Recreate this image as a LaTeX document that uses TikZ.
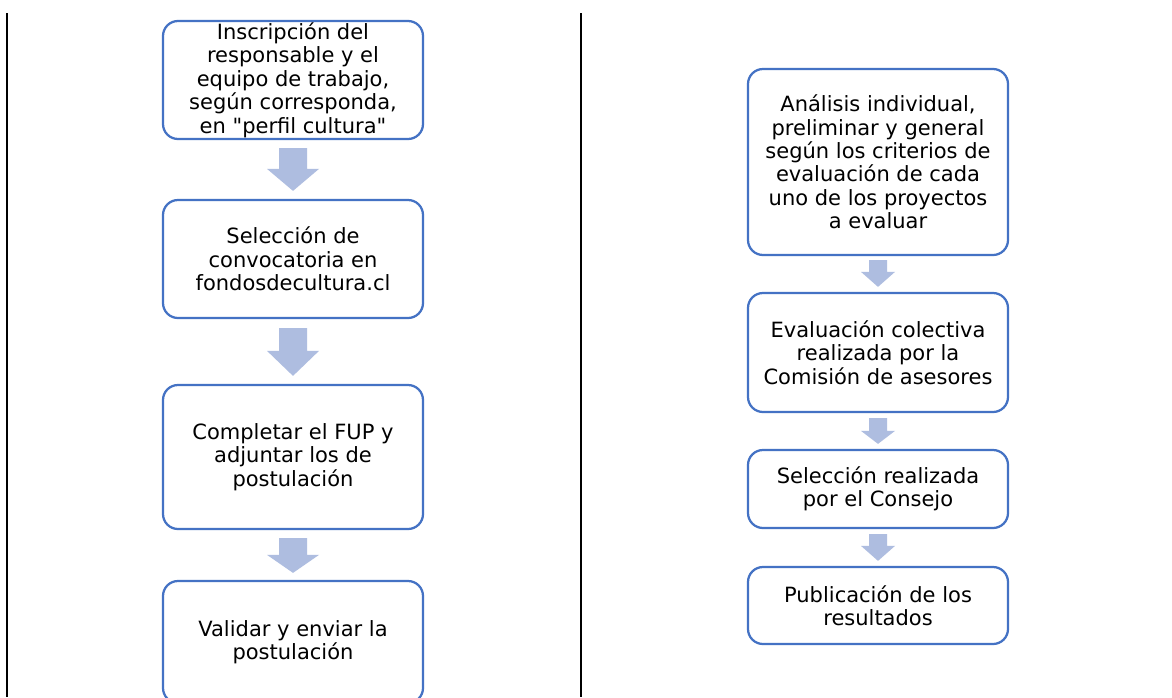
\documentclass[tikz,border=0pt]{standalone}
\usepackage{fontspec}
\setmainfont{DejaVu Sans}[Ligatures=TeXOff]
\usetikzlibrary{calc}
\definecolor{boxblue}{RGB}{68,114,196}
\definecolor{arrowfill}{RGB}{174,189,224}
\tikzset{
  stepbox/.style={draw=boxblue, line width=2.25pt, rounded corners=15pt, fill=white,
    minimum width=260pt, align=center, inner sep=0pt,
    font=\fontsize{21}{23.4}\selectfont},
  rulebar/.style={draw=black, line width=2pt},
}
% #1 from node, #2 to node, #3 half shaft, #4 half head, #5 gap below source, #6 head length, #7 gap above target
\newcommand\blockarrow[7]{%
  \fill[arrowfill] let \p1=(#1.south), \p2=(#2.north) in
    (\x1-#3, \y1-#5) -- (\x1+#3, \y1-#5) -- (\x1+#3, \y2+#7+#6) -- (\x1+#4, \y2+#7+#6)
    -- (\x1, \y2+#7) -- (\x1-#4, \y2+#7+#6) -- (\x1-#3, \y2+#7+#6) -- cycle;}
\begin{document}
\begin{tikzpicture}[x=1pt, y=-1pt]
\useasboundingbox (0,0) rectangle (1172,697);
\clip (0,0) rectangle (1172,697);
\fill[white] (0,0) rectangle (1172,697);
% table rules
\coordinate (r1t) at (7,13);
\coordinate (r1b) at (7,697);
\coordinate (r2t) at (581,13);
\coordinate (r2b) at (581,697);
\draw[rulebar] (r1t) -- (r1b);
\draw[rulebar] (r2t) -- (r2b);
% left column
\node[stepbox, minimum height=118pt] (l1) at (293,80) {Inscripción del\\responsable y el\\equipo de trabajo,\\según corresponda,\\en "perfil cultura"};
\node[stepbox, minimum height=118pt] (l2) at (293,259) {Selección de\\convocatoria en\\fondosdecultura.cl};
\node[stepbox, minimum height=144pt] (l3) at (293,457) {Completar el FUP y\\adjuntar los de\\postulación};
\node[stepbox, minimum height=122pt] (l4) at (293,642) {Validar y enviar la\\postulación};
\blockarrow{l1}{l2}{14}{26}{8}{22}{8}
\blockarrow{l2}{l3}{14}{26}{9}{25}{8}
\blockarrow{l3}{l4}{14}{26}{8}{18}{7}
% right column
\node[stepbox, minimum height=186pt] (r1) at (878,162) {Análisis individual,\\preliminar y general\\según los criterios de\\evaluación de cada\\uno de los proyectos\\a evaluar};
\node[stepbox, minimum height=119pt] (r2) at (878,352.5) {Evaluación colectiva\\realizada por la\\Comisión de asesores};
\node[stepbox, minimum height=78pt] (r3) at (878,489) {Selección realizada\\por el Consejo};
\node[stepbox, minimum height=77pt] (r4) at (878,605.5) {Publicación de los\\resultados};
\blockarrow{r1}{r2}{9}{17}{4}{15}{5}
\blockarrow{r2}{r3}{9}{17}{5}{13}{5}
\blockarrow{r3}{r4}{9}{17}{5}{15}{5}
\end{tikzpicture}
\end{document}
